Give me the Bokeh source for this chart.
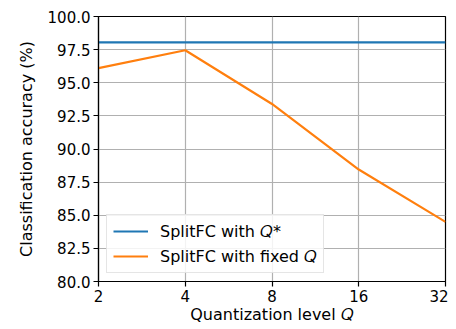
from bokeh.plotting import figure
from bokeh.models import FixedTicker, CustomJSTickFormatter, PrintfTickFormatter, Range1d, Legend, LegendItem
from bokeh.embed import file_html
from bokeh.resources import INLINE

q_levels = [2, 4, 8, 16, 32]
acc_qstar = [98.05, 98.05, 98.05, 98.05, 98.05]
acc_fixed = [96.1, 97.45, 93.4, 88.45, 84.5]
y_ticks = [80.0, 82.5, 85.0, 87.5, 90.0, 92.5, 95.0, 97.5, 100.0]

FONT = "DejaVu Sans"

p = figure(width=448, height=326, x_axis_type="log", output_backend="svg",
           toolbar_location=None, x_range=Range1d(2, 32), y_range=Range1d(80, 100),
           min_border_left=98, min_border_right=3, min_border_top=16, min_border_bottom=45)

r1 = p.line(q_levels, acc_qstar, line_color="#1f77b4", line_width=2.2)
r2 = p.line(q_levels, acc_fixed, line_color="#ff7f0e", line_width=2.2)

p.xaxis.ticker = FixedTicker(ticks=q_levels, minor_ticks=[])
p.xaxis.formatter = CustomJSTickFormatter(code="return tick.toFixed(0);")
p.yaxis.ticker = FixedTicker(ticks=y_ticks, minor_ticks=[])
p.yaxis.formatter = PrintfTickFormatter(format="%.1f")

p.xaxis.axis_label = "Quantization level \U0001D444"
p.yaxis.axis_label = "Classification accuracy (%)"

for ax in (p.xaxis, p.yaxis):
    ax.axis_label_text_font = FONT
    ax.axis_label_text_font_style = "normal"
    ax.axis_label_text_font_size = "16px"
    ax.axis_label_text_color = "#000000"
    ax.major_label_text_font = FONT
    ax.major_label_text_font_size = "15px"
    ax.major_label_text_color = "#000000"
    ax.axis_line_color = "#000000"
    ax.axis_line_width = 1.2
    ax.major_tick_line_color = "#000000"
    ax.major_tick_line_width = 1.2
    ax.major_tick_out = 5
    ax.major_tick_in = 0
    ax.minor_tick_line_color = None

p.xaxis.axis_label_standoff = 0
p.yaxis.axis_label_standoff = 9
p.xaxis.major_label_standoff = 3
p.yaxis.major_label_standoff = 3

p.xgrid.grid_line_color = "#b0b0b0"
p.ygrid.grid_line_color = "#b0b0b0"
p.xgrid.grid_line_width = 1.2
p.ygrid.grid_line_width = 1.2

p.outline_line_color = "#000000"
p.outline_line_width = 1.2
p.background_fill_color = "white"
p.border_fill_color = "white"

legend = Legend(items=[
    LegendItem(label="SplitFC with \U0001D444*", renderers=[r1]),
    LegendItem(label="SplitFC with fixed \U0001D444", renderers=[r2]),
], location="bottom_left")
legend.label_text_font = FONT
legend.label_text_font_size = "16px"
legend.label_text_color = "#000000"
legend.border_line_color = "#cccccc"
legend.border_line_width = 1
legend.background_fill_alpha = 0.85
legend.glyph_width = 35
legend.glyph_height = 20
legend.label_height = 20
legend.spacing = 5
legend.padding = 6
legend.margin = 8
legend.label_standoff = 12
p.add_layout(legend, "center")

open("out.html", "w").write(file_html(p, INLINE))
